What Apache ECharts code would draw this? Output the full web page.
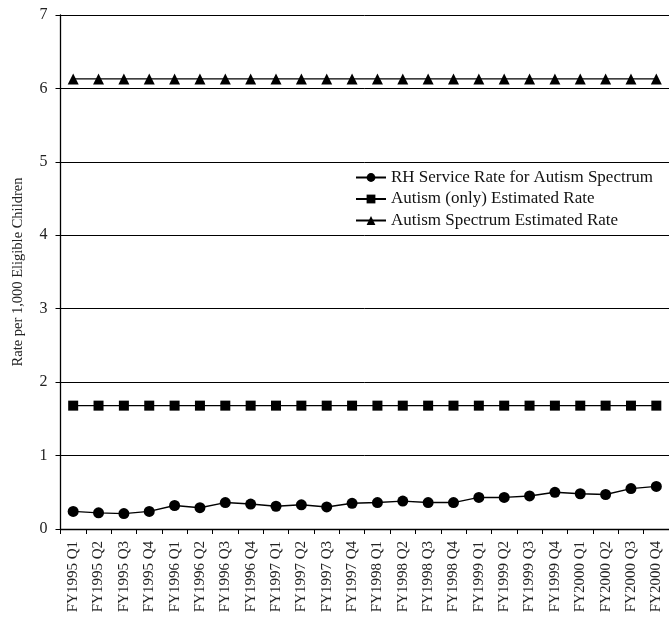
<!DOCTYPE html>
<html>
<head>
<meta charset="utf-8">
<script src="https://cdn.jsdelivr.net/npm/echarts@6/dist/echarts.min.js"></script>
<style>
html,body{margin:0;padding:0;background:#fff;}
#c{width:669px;height:617px;}
</style>
</head>
<body>
<div id="c"></div>
<script>
var categories = ["FY1995 Q1","FY1995 Q2","FY1995 Q3","FY1995 Q4",
  "FY1996 Q1","FY1996 Q2","FY1996 Q3","FY1996 Q4",
  "FY1997 Q1","FY1997 Q2","FY1997 Q3","FY1997 Q4",
  "FY1998 Q1","FY1998 Q2","FY1998 Q3","FY1998 Q4",
  "FY1999 Q1","FY1999 Q2","FY1999 Q3","FY1999 Q4",
  "FY2000 Q1","FY2000 Q2","FY2000 Q3","FY2000 Q4"];
var rhServiceRate = [0.24,0.22,0.21,0.24,0.32,0.29,0.36,0.34,0.31,0.33,0.30,0.35,
  0.36,0.38,0.36,0.36,0.43,0.43,0.45,0.50,0.48,0.47,0.55,0.58];
var autismOnlyRate = [1.68,1.68,1.68,1.68,1.68,1.68,1.68,1.68,1.68,1.68,1.68,1.68,
  1.68,1.68,1.68,1.68,1.68,1.68,1.68,1.68,1.68,1.68,1.68,1.68];
var autismSpectrumRate = [6.13,6.13,6.13,6.13,6.13,6.13,6.13,6.13,6.13,6.13,6.13,6.13,
  6.13,6.13,6.13,6.13,6.13,6.13,6.13,6.13,6.13,6.13,6.13,6.13];
var seriesNames = ["RH Service Rate for Autism Spectrum","Autism (only) Estimated Rate","Autism Spectrum Estimated Rate"];
var yTicks = [0,1,2,3,4,5,6,7];

var FONT = "'Liberation Serif', 'DejaVu Serif', serif";
var chart = echarts.init(document.getElementById('c'), null, {renderer:'canvas'});
function mk(name, data, symbol, size){
  return {
    name: name, type: 'line', data: data, symbol: symbol, symbolSize: size,
    lineStyle: {color:'#000', width:1.4},
    itemStyle: {color:'#000'},
    animation: false
  };
}
chart.setOption({
  animation: false,
  grid: {left: 60.5, top: 15, width: 616, height: 514},
  legend: {
    orient: 'vertical', left: 350, top: 164,
    itemWidth: 30, itemHeight: 11, itemGap: 4.5,
    textStyle: {fontFamily: FONT, fontSize: 17, color: '#111', lineHeight: 17},
    data: seriesNames
  },
  xAxis: {
    type: 'category', data: categories, boundaryGap: true,
    axisLine: {lineStyle: {color:'#000', width:1.3}},
    axisTick: {show: true, length: 5, lineStyle: {color:'#000'}},
    axisLabel: {rotate: 90, interval: 0, margin: 12, fontFamily: FONT, fontSize: 15, color: '#222'}
  },
  yAxis: {
    type: 'value', min: 0, max: 7, interval: 1,
    name: 'Rate per 1,000 Eligible Children', nameLocation: 'middle', nameGap: 35,
    nameTextStyle: {fontFamily: FONT, fontSize: 14.5, color: '#222'},
    axisLine: {show: true, lineStyle: {color:'#000', width:1.3}},
    axisTick: {show: true, length: 5, lineStyle: {color:'#000'}},
    splitLine: {show: true, lineStyle: {color:'#000', width:1}},
    axisLabel: {margin: 13, fontFamily: FONT, fontSize: 16, color: '#222',
      formatter: function(v){ return yTicks.indexOf(v) >= 0 ? String(v) : ''; }}
  },
  series: [
    mk(seriesNames[0], rhServiceRate, 'circle', 11),
    mk(seriesNames[1], autismOnlyRate, 'rect', 10),
    mk(seriesNames[2], autismSpectrumRate, 'triangle', 11)
  ]
});
</script>
</body>
</html>
